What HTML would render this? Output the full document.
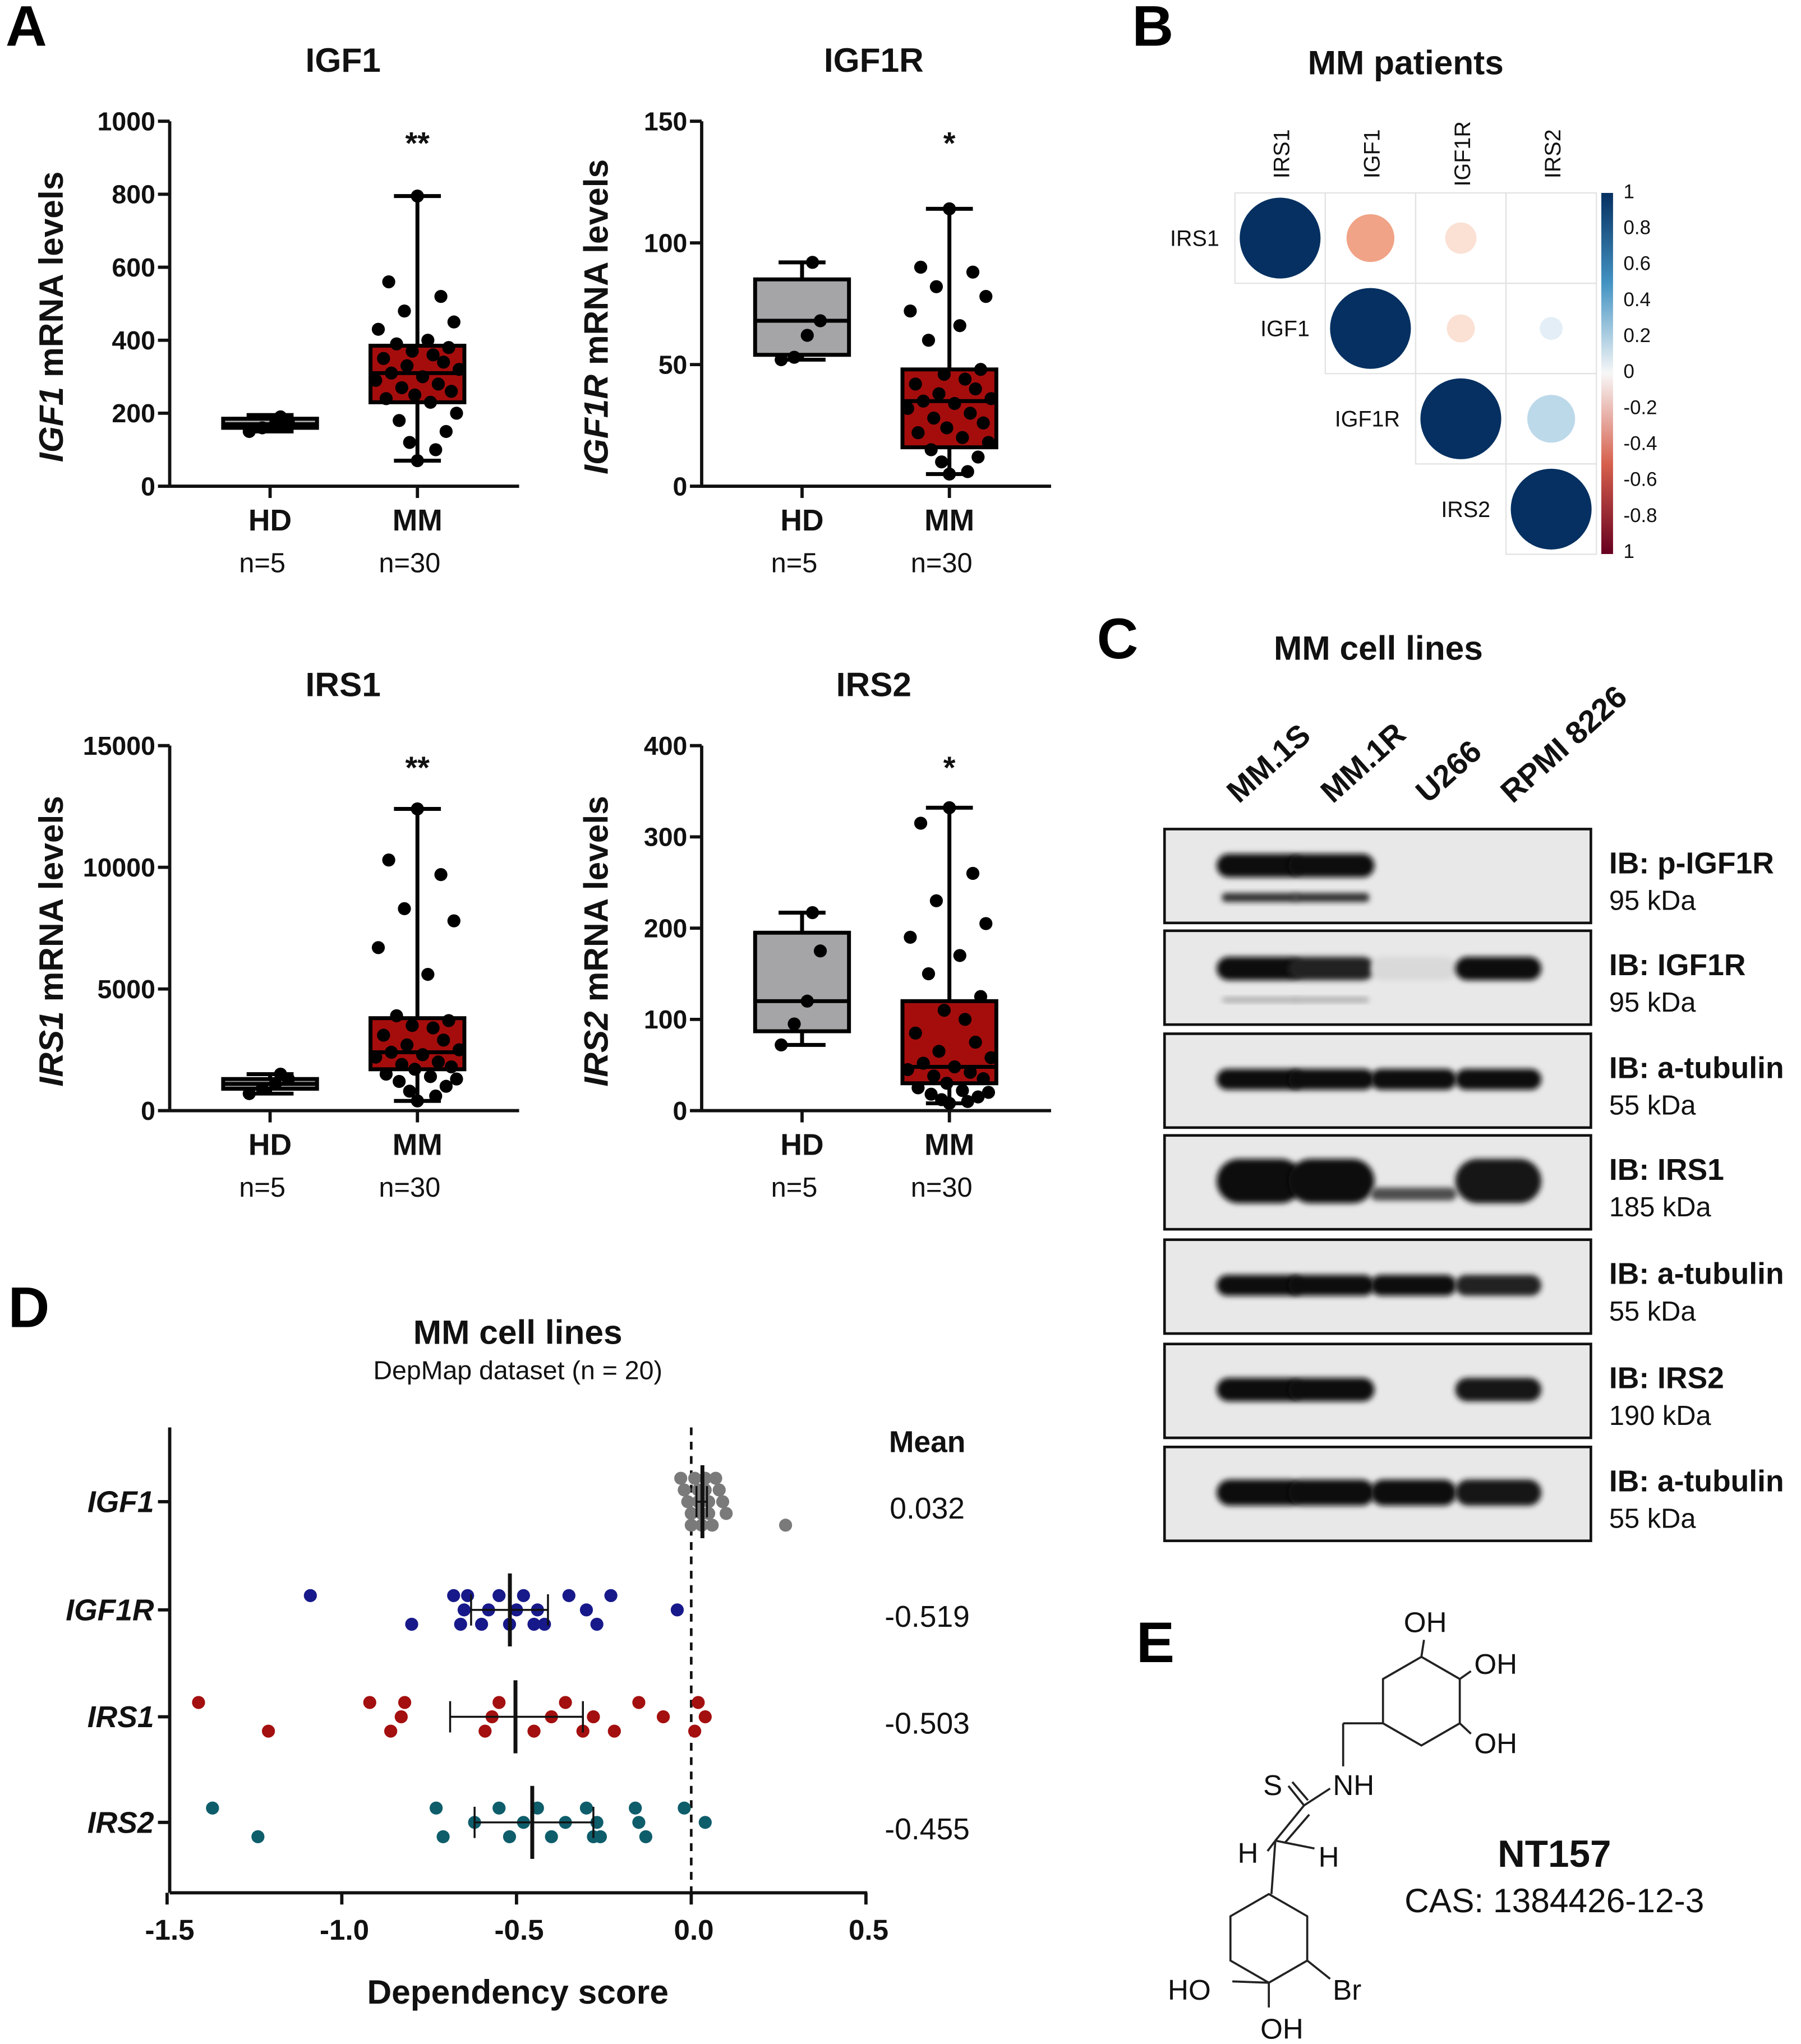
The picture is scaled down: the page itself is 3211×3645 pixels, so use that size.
<!DOCTYPE html>
<html><head><meta charset="utf-8"><style>
html,body{margin:0;padding:0;background:#fff}
svg{display:block}
text{font-family:"Liberation Sans",sans-serif}
</style></head><body>
<svg id="fig" width="3211" height="3645" viewBox="0 0 1381 1568" xmlns="http://www.w3.org/2000/svg">
<defs>
<filter id="blur" x="-20%" y="-50%" width="140%" height="200%"><feGaussianBlur stdDeviation="2.2"/></filter>
<linearGradient id="cbar" x1="0" y1="0" x2="0" y2="1">
<stop offset="0" stop-color="#053061"/><stop offset="0.25" stop-color="#4393c3"/><stop offset="0.5" stop-color="#f7f7f7"/><stop offset="0.75" stop-color="#d6604d"/><stop offset="1" stop-color="#67001f"/></linearGradient>
</defs>
<g id="root"></g>
</svg>
<script>
// ---- Panel A data ----
const aTitles=["IGF1","IGF1R","IRS1","IRS2"];
const aTicks=[[0,200,400,600,800,1000],[0,50,100,150],[0,5000,10000,15000],[0,100,200,300,400]];
const aStars=["**","*","**","*"];
const hdBox=[[150,160,170,185,195],[52,54,68,85,92],[700,900,1100,1300,1500],[72,87,120,195,217]];
const mmBox=[[70,230,310,385,795],[5,16,35,48,114],[400,1700,2400,3800,12400],[8,30,48,120,332]];
const hdPts=[[150,160,170,180,190],[52,53,62,68,92],[700,900,1100,1300,1500],[72,95,120,175,217]];
const mmPts=[
[795,560,520,480,450,430,400,390,380,370,360,350,340,330,320,310,300,290,280,270,260,250,240,230,200,180,150,120,100,70],
[114,90,88,82,78,72,66,60,48,46,44,42,40,38,36,35,34,32,30,28,26,24,22,20,18,15,12,10,6,5],
[12400,10300,9700,8300,7800,6700,5600,3900,3700,3500,3400,3100,2900,2700,2500,2400,2300,2200,2000,1900,1800,1700,1500,1400,1300,1200,1000,800,600,400],
[332,315,260,230,205,190,170,150,125,110,100,85,75,65,58,52,48,45,42,38,35,30,25,22,20,18,15,12,10,8]];
// ---- Panel B data ----
const bVars=["IRS1","IGF1","IGF1R","IRS2"];
const bCorr=[[1,-0.35,-0.15,0],[-0.35,1,-0.12,0.08],[-0.15,-0.12,1,0.35],[0,0.08,0.35,1]];
const bBarTicks=["1","0.8","0.6","0.4","0.2","0","-0.2","-0.4","-0.6","-0.8","1"];
// ---- Panel C data ----
const cLanes=["MM.1S","MM.1R","U266","RPMI 8226"];
const cBlots=["IB: p-IGF1R","IB: IGF1R","IB: a-tubulin","IB: IRS1","IB: a-tubulin","IB: IRS2","IB: a-tubulin"];
const cKda=["95 kDa","95 kDa","55 kDa","185 kDa","55 kDa","190 kDa","55 kDa"];
const cIntensity=[[1,1,0,0],[1,0.9,0.08,1],[1,1,1,1],[1,1,0.7,0.95],[1,1,1,0.9],[1,1,0,0.95],[1,1,1,0.95]];
// ---- Panel D data ----
const dGenes=["IGF1","IGF1R","IRS1","IRS2"];
const dMeans=[0.032,-0.519,-0.503,-0.455];
const dErrLo=[0.015,-0.63,-0.69,-0.62];
const dErrHi=[0.045,-0.41,-0.31,-0.28];
const dTickVals=[-1.5,-1.0,-0.5,0.0,0.5];
const dTickLabels=["-1.5","-1.0","-0.5","0.0","0.5"];
const dPts=[
[-0.03,-0.02,-0.01,0.0,0.0,0.01,0.02,0.02,0.03,0.03,0.04,0.04,0.05,0.05,0.06,0.07,0.08,0.09,0.10,0.27],
[-1.09,-0.80,-0.68,-0.66,-0.65,-0.64,-0.60,-0.58,-0.55,-0.52,-0.50,-0.48,-0.45,-0.44,-0.42,-0.35,-0.30,-0.27,-0.23,-0.04],
[-1.41,-1.21,-0.92,-0.86,-0.83,-0.82,-0.59,-0.57,-0.55,-0.45,-0.40,-0.36,-0.31,-0.28,-0.22,-0.15,-0.08,0.01,0.02,0.04],
[-1.37,-1.24,-0.73,-0.71,-0.62,-0.55,-0.52,-0.48,-0.44,-0.40,-0.36,-0.30,-0.28,-0.27,-0.26,-0.16,-0.15,-0.13,-0.02,0.04]];
const dColors=["#7a7a7a","#17198a","#a40f0f","#0e5d6b"];

const NS="http://www.w3.org/2000/svg";
const root=document.getElementById('root');
function el(tag,attrs,parent,txt){const e=document.createElementNS(NS,tag);for(const k in attrs)e.setAttribute(k,attrs[k]);if(txt!==undefined)e.textContent=txt;(parent||root).appendChild(e);return e;}
function T(x,y,s,size,opts,parent){opts=opts||{};const a={x:x,y:y,'font-size':size,'text-anchor':opts.anchor||'middle',fill:opts.fill||'#111'};if(opts.bold)a['font-weight']='bold';if(opts.italic)a['font-style']='italic';if(opts.rot)a.transform='rotate('+opts.rot+' '+x+' '+y+')';return el('text',a,parent,s);}

// Panel letters
[["A",20,35],["B",884,35],["C",857,505],["D",22,1018],["E",886,1275]].forEach(l=>{
 const t=T(l[1],l[2],l[0],44,{bold:true,fill:'#000'});
 
 
});

// ---- Panel A ----
const aLayout=[{ax:130,top:93,bot:373,tx:263,ty:55,lx:48},{ax:538,top:93,bot:373,tx:670,ty:55,lx:466},{ax:130,top:572,bot:852,tx:263,ty:534,lx:48},{ax:538,top:572,bot:852,tx:670,ty:534,lx:466}];
const aYLab=[["IGF1"," mRNA levels"],["IGF1R"," mRNA levels"],["IRS1"," mRNA levels"],["IRS2"," mRNA levels"]];
aTitles.forEach((title,i)=>{
 const L=aLayout[i];const g=el('g',{});
 
 
 const max=aTicks[i][aTicks[i].length-1];
 const y=v=>L.bot-(v/max)*(L.bot-L.top);
 const hx=L.ax+77, mx=L.ax+190;
 const t=T(L.tx,L.ty,title,26,{bold:true},g);
 
 
 el('line',{x1:L.ax,y1:L.top,x2:L.ax,y2:L.bot,stroke:'#111','stroke-width':2.5},g);
 el('line',{x1:L.ax,y1:L.bot,x2:L.ax+268,y2:L.bot,stroke:'#111','stroke-width':2.5},g);
 aTicks[i].forEach(v=>{el('line',{x1:L.ax-9,y1:y(v),x2:L.ax,y2:y(v),stroke:'#111','stroke-width':2.5},g);
  const tk=T(L.ax-11,y(v)+7,String(v),20,{bold:true,anchor:'end'},g);
  
  });
 [hx,mx].forEach(x=>el('line',{x1:x,y1:L.bot,x2:x,y2:L.bot+9,stroke:'#111','stroke-width':2.5},g));
 const yl=el('text',{x:L.lx,y:(L.top+L.bot)/2+10,'font-size':26,'font-weight':'bold','text-anchor':'middle',fill:'#111',transform:'rotate(-90 '+L.lx+' '+((L.top+L.bot)/2+10)+')'},g);
 
 
 el('tspan',{'font-style':'italic'},yl,aYLab[i][0]);el('tspan',{},yl,aYLab[i][1]);
 [["HD",hx,"n=5"],["MM",mx,"n=30"]].forEach(c=>{
  const cl=T(c[1],L.bot+34,c[0],23,{bold:true},g);
  
  
  const nl=T(c[1]-6,L.bot+66,c[2],21,{},g);
  
  
 });
 function box(cx,b,fill,nm){
  const bg=el('g',{},g);
  
  
  el('line',{x1:cx,y1:y(b[0]),x2:cx,y2:y(b[4]),stroke:'#000','stroke-width':3},bg);
  [b[0],b[4]].forEach(v=>el('line',{x1:cx-18,y1:y(v),x2:cx+18,y2:y(v),stroke:'#000','stroke-width':3},bg));
  el('rect',{x:cx-36,y:y(b[3]),width:72,height:y(b[1])-y(b[3]),fill:fill,stroke:'#000','stroke-width':3},bg);
  el('line',{x1:cx-36,y1:y(b[2]),x2:cx+36,y2:y(b[2]),stroke:'#000','stroke-width':3},bg);
 }
 box(hx,hdBox[i],'#a5a5a8','hd-box');box(mx,mmBox[i],'#a50d0d','mm-box');
 const jit=[0,-22,18,-10,28,-30,8,-16,24,-4,12,-26,20,-8,32,-20,4,-32,16,-12,26,-2,-24,10,30,-14,22,-6,14,0];
 hdPts[i].forEach((v,k)=>{const c=el('circle',{cx:hx+[-16,-6,4,14,8][k],cy:y(v),r:5,fill:'#000'},g);
  
  });
 mmPts[i].forEach((v,k)=>{const c=el('circle',{cx:mx+jit[k],cy:y(v),r:5,fill:'#000'},g);
  
  });
 const st=T(mx,L.top+25,aStars[i],24,{bold:true},g);
 
 
});

// ---- Panel B ----
(function(){
 const g=el('g',{});
 
 
 const tt=T(1078,57,"MM patients",26,{bold:true},g);
 
 
 const x0=947,y0=148,cs=69.3;
 for(let r=0;r<4;r++)for(let c=r;c<4;c++){
  el('rect',{x:x0+c*cs,y:y0+r*cs,width:cs,height:cs,fill:'none',stroke:'#e3e3e3','stroke-width':1},g);
  const v=bCorr[r][c];if(Math.abs(v)<0.02)continue;
  const colA=v>=0.99?'#053061':v<-0.25?'#f0a386':v<0?'#fbe0d4':v<0.2?'#e3eef6':'#bcd9ea';
  const ci=el('circle',{cx:x0+c*cs+cs/2,cy:y0+r*cs+cs/2,r:31*Math.sqrt(Math.abs(v)),fill:colA},g);
  
  
 }
 bVars.forEach((n,k)=>{
  const cx=x0+k*cs+cs/2;
  const cl=T(cx+7,118,n,17,{rot:-90,anchor:'middle'},g);
  
  
  const rl=T(x0+k*cs-12,y0+k*cs+cs/2+6,n,17,{anchor:'end'},g);
  
  
 });
 el('rect',{x:1228,y:148,width:9,height:277,fill:'url(#cbar)'},g);
 bBarTicks.forEach((t,k)=>{const l=T(1245,152+k*27.6,t,15,{anchor:'start'},g);
  
  });
})();

// ---- Panel C ----
(function(){
 const g=el('g',{});
 
 
 const tt=T(1057,506,"MM cell lines",26,{bold:true},g);
 
 
 const laneX=[967,1022,1085,1150];
 const labX=[950,1022,1095,1160];
 cLanes.forEach((n,k)=>{const l=T(labX[k],617,n,24,{bold:true,anchor:'start',rot:-42},g);
  
  });
 const tops=[636,714,793,871,951,1031,1110];
 const bandY=[28,29,35,35,35,35,35];
 const bandH=[18,18,16,34,16,18,20];
 cBlots.forEach((n,r)=>{
  const t=tops[r],h=72;
  el('rect',{x:893,y:t,width:327,height:h,fill:'#e8e8e8',stroke:'#111','stroke-width':2},g);
  const by=t+bandY[r];
  cIntensity[r].forEach((v,k)=>{if(v<=0)return;
   const gray=Math.round(235-225*v);
   let hh=bandH[r],yy=by;
   if(r==3&&k==2){hh=10;yy=by+10;}
   const b=el('rect',{x:laneX[k]-34,y:yy-hh/2,width:66,height:hh,rx:hh/2,fill:'rgb('+gray+','+gray+','+gray+')',filter:'url(#blur)'},g);
   
   
   if((r==0||r==1)&&k<2){el('rect',{x:laneX[k]-30,y:by+(r==0?21:22),width:58,height:r==0?7:4,rx:3,fill:r==0?'#333':'#aaa',filter:'url(#blur)'},g);}
  });
  const l=T(1234,t+34,n,23,{bold:true,anchor:'start'},g);
  
  
  const k=T(1234,t+62,cKda[r],21,{anchor:'start'},g);
  
  
 });
})();

// ---- Panel D ----
(function(){
 const g=el('g',{});
 
 
 const x=v=>530+v*268;
 const rowY=[1152,1235,1317,1398];
 const t1=T(397,1031,"MM cell lines",26,{bold:true},g);
 
 
 const t2=T(397,1058,"DepMap dataset (n = 20)",20,{},g);
 
 
 el('line',{x1:130,y1:1095,x2:130,y2:1452,stroke:'#111','stroke-width':2.5},g);
 el('line',{x1:130,y1:1452,x2:665,y2:1452,stroke:'#111','stroke-width':2.5},g);
 el('line',{x1:x(0),y1:1095,x2:x(0),y2:1452,stroke:'#111','stroke-width':2,'stroke-dasharray':'6,5'},g);
 dTickVals.forEach((v,k)=>{el('line',{x1:x(v),y1:1452,x2:x(v),y2:1461,stroke:'#111','stroke-width':2.5},g);
  const l=T(x(v)+2,1488,dTickLabels[k],22,{bold:true},g);
  
  });
 const xt=T(397,1537,"Dependency score",26,{bold:true},g);
 
 
 const mh=T(711,1114,"Mean",23,{bold:true},g);
 
 
 const jit=[-1,1,-1,1,0,-1,1,0,-1,1,0,-1,1,0,1,-1,0,1,-1,0];
 dGenes.forEach((n,i)=>{
  const y=rowY[i];
  el('line',{x1:121,y1:y,x2:130,y2:y,stroke:'#111','stroke-width':2.5},g);
  const gl=T(118,y+8,n,23,{bold:true,italic:true,anchor:'end'},g);
  
  
  dPts[i].forEach((v,k)=>{
   const off=i==0?((k%5)-2)*9:jit[k]*11;
   const c=el('circle',{cx:x(v),cy:y+off,r:5,fill:dColors[i]},g);
   
   
  });
  el('line',{x1:x(dErrLo[i]),y1:y,x2:x(dErrHi[i]),y2:y,stroke:'#111','stroke-width':1.5},g);
  [dErrLo[i],dErrHi[i]].forEach(v=>el('line',{x1:x(v),y1:y-12,x2:x(v),y2:y+12,stroke:'#111','stroke-width':1.5},g));
  const m=el('line',{x1:x(dMeans[i]),y1:y-28,x2:x(dMeans[i]),y2:y+28,stroke:'#111','stroke-width':3},g);
  
  
  const mv=T(711,y+13,dMeans[i].toFixed(3),23,{},g);
  
  
 });
})();

// ---- Panel E (structure) ----
(function(){
 const g=el('g',{stroke:'#222','stroke-width':1.6,fill:'none'});
 
 
 function hex(cx,cy,r){const p=[];for(let k=0;k<6;k++){const a=Math.PI/180*(60*k+30);p.push([cx+r*Math.cos(a),cy+r*Math.sin(a)]);}
  el('polygon',{points:p.map(q=>q.join(',')).join(' ')},g);return p;}
 const top=hex(1090,1305,34);
 const bot=hex(973,1487,34);
 const L=(a,b,c,d)=>el('line',{x1:a,y1:b,x2:c,y2:d},g);
 L(top[4][0],top[4][1],1092,1258); L(top[5][0],top[5][1],1128,1282); L(top[0][0],top[0][1],1128,1330);
 L(top[2][0],top[2][1],1030,1322); L(1030,1322,1030,1355);
 L(1020,1372,1000,1385); L(1000,1385,988,1370); L(1003,1381,991,1367);
 L(1000,1385,978,1412); L(1004,1392,985,1414);
 L(978,1412,972,1420); L(978,1412,975,1453);
 L(978,1412,1008,1418);
 L(bot[1][0],bot[1][1],945,1520); L(bot[1][0],bot[1][1],bot[1][0],1540); L(bot[0][0],bot[0][1],1020,1518);
 const lbl=[["OH",1093,1252],["OH",1147,1284],["OH",1147,1345],["S",976,1377],["NH",1038,1377],["H",957,1429],["H",1019,1432],["HO",912,1534],["Br",1033,1534],["OH",983,1564]];
 lbl.forEach(l=>{const t=T(l[1],l[2],l[0],22,{});});
 const n=T(1192,1432,"NT157",29,{bold:true});
 
 
 const c=T(1192,1467,"CAS: 1384426-12-3",26,{});
 
 
})();
</script>
</body></html>
